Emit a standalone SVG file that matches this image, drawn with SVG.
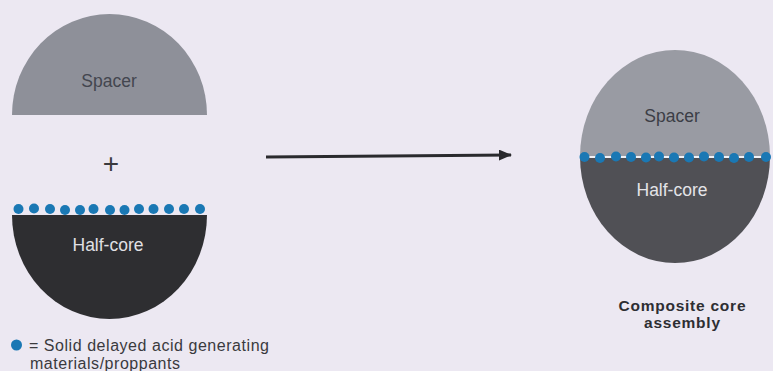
<svg xmlns="http://www.w3.org/2000/svg" width="773" height="371" viewBox="0 0 773 371">
<style>
.t{font-family:"Liberation Sans",Arial,sans-serif;font-size:17.5px;text-anchor:middle}
.b{font-weight:bold;font-size:15.5px;fill:#2e2e32}
.lg{font-family:"Liberation Sans",Arial,sans-serif;font-size:16px;fill:#3a3a3e}
.dot{fill:#1a78b4}
</style>
<defs>
<marker id="ah" markerWidth="13" markerHeight="11" refX="12" refY="5.5" orient="auto" markerUnits="userSpaceOnUse">
<path d="M0,0 L13,5.5 L0,11 Z" fill="#2a2a2e"/>
</marker>
<clipPath id="cc"><ellipse cx="675" cy="156.5" rx="95" ry="106.5"/></clipPath>
</defs>
<rect width="773" height="371" fill="#ece8f2"/>
<g id="spacer">
<path d="M12,115 A97.5,101 0 0 1 207,115 Z" fill="#8e9099"/>
<text class="t" x="109" y="87" fill="#43464f">Spacer</text>
</g>
<g id="plus"><text class="t" x="111" y="173" style="font-size:28px" fill="#3a3a3e">+</text></g>
<g id="halfcore">
<path d="M12,215 A97.5,104 0 0 0 207,215 Z" fill="#2e2e31"/>
<g class="dot">
<circle cx="18.5" cy="209" r="5"/><circle cx="34" cy="208.5" r="5"/><circle cx="50" cy="209" r="5"/><circle cx="65" cy="210" r="5"/><circle cx="80" cy="210" r="5"/><circle cx="93.5" cy="209" r="5"/><circle cx="110" cy="210" r="5"/><circle cx="124.5" cy="210" r="5"/><circle cx="139" cy="209" r="5"/><circle cx="153.5" cy="209" r="5"/><circle cx="169" cy="209" r="5"/><circle cx="184" cy="209" r="5"/><circle cx="200" cy="209" r="5"/>
</g>
<text class="t" x="108" y="251" fill="#e0e0e4">Half-core</text>
</g>
<g id="connectors">
<line x1="266" y1="157" x2="511" y2="155" stroke="#2a2a2e" stroke-width="3" marker-end="url(#ah)"/>
</g>
<g id="composite">
<g clip-path="url(#cc)">
<rect x="575" y="45" width="200" height="112" fill="#999ba3"/>
<rect x="575" y="157" width="200" height="110" fill="#505055"/>
</g>
<line x1="580" y1="157" x2="770" y2="157" stroke="#f2f2f6" stroke-width="2"/>
<g class="dot">
<circle cx="584.5" cy="157" r="5"/><circle cx="600" cy="158" r="5"/><circle cx="616" cy="156.5" r="5"/><circle cx="631" cy="157" r="5"/><circle cx="646" cy="157.5" r="5"/><circle cx="659" cy="156.5" r="5"/><circle cx="674" cy="157.5" r="5"/><circle cx="689" cy="157.5" r="5"/><circle cx="704" cy="156.5" r="5"/><circle cx="719" cy="157" r="5"/><circle cx="734" cy="158" r="5"/><circle cx="749" cy="157" r="5"/><circle cx="766" cy="157" r="5"/>
</g>
<text class="t" x="672" y="122" fill="#3c3e46">Spacer</text>
<text class="t" x="672" y="196" fill="#e4e4e8">Half-core</text>
<text class="t b" x="682" y="310.5" textLength="127" lengthAdjust="spacing">Composite core</text>
<text class="t b" x="682" y="328" textLength="76" lengthAdjust="spacing">assembly</text>
</g>
<g id="legend">
<circle class="dot" cx="16.5" cy="345" r="5.5"/>
<text class="lg" x="29" y="350.5" textLength="240" lengthAdjust="spacing">= Solid delayed acid generating</text>
<text class="lg" x="30" y="368.5" textLength="150" lengthAdjust="spacing">materials/proppants</text>
</g>
</svg>
